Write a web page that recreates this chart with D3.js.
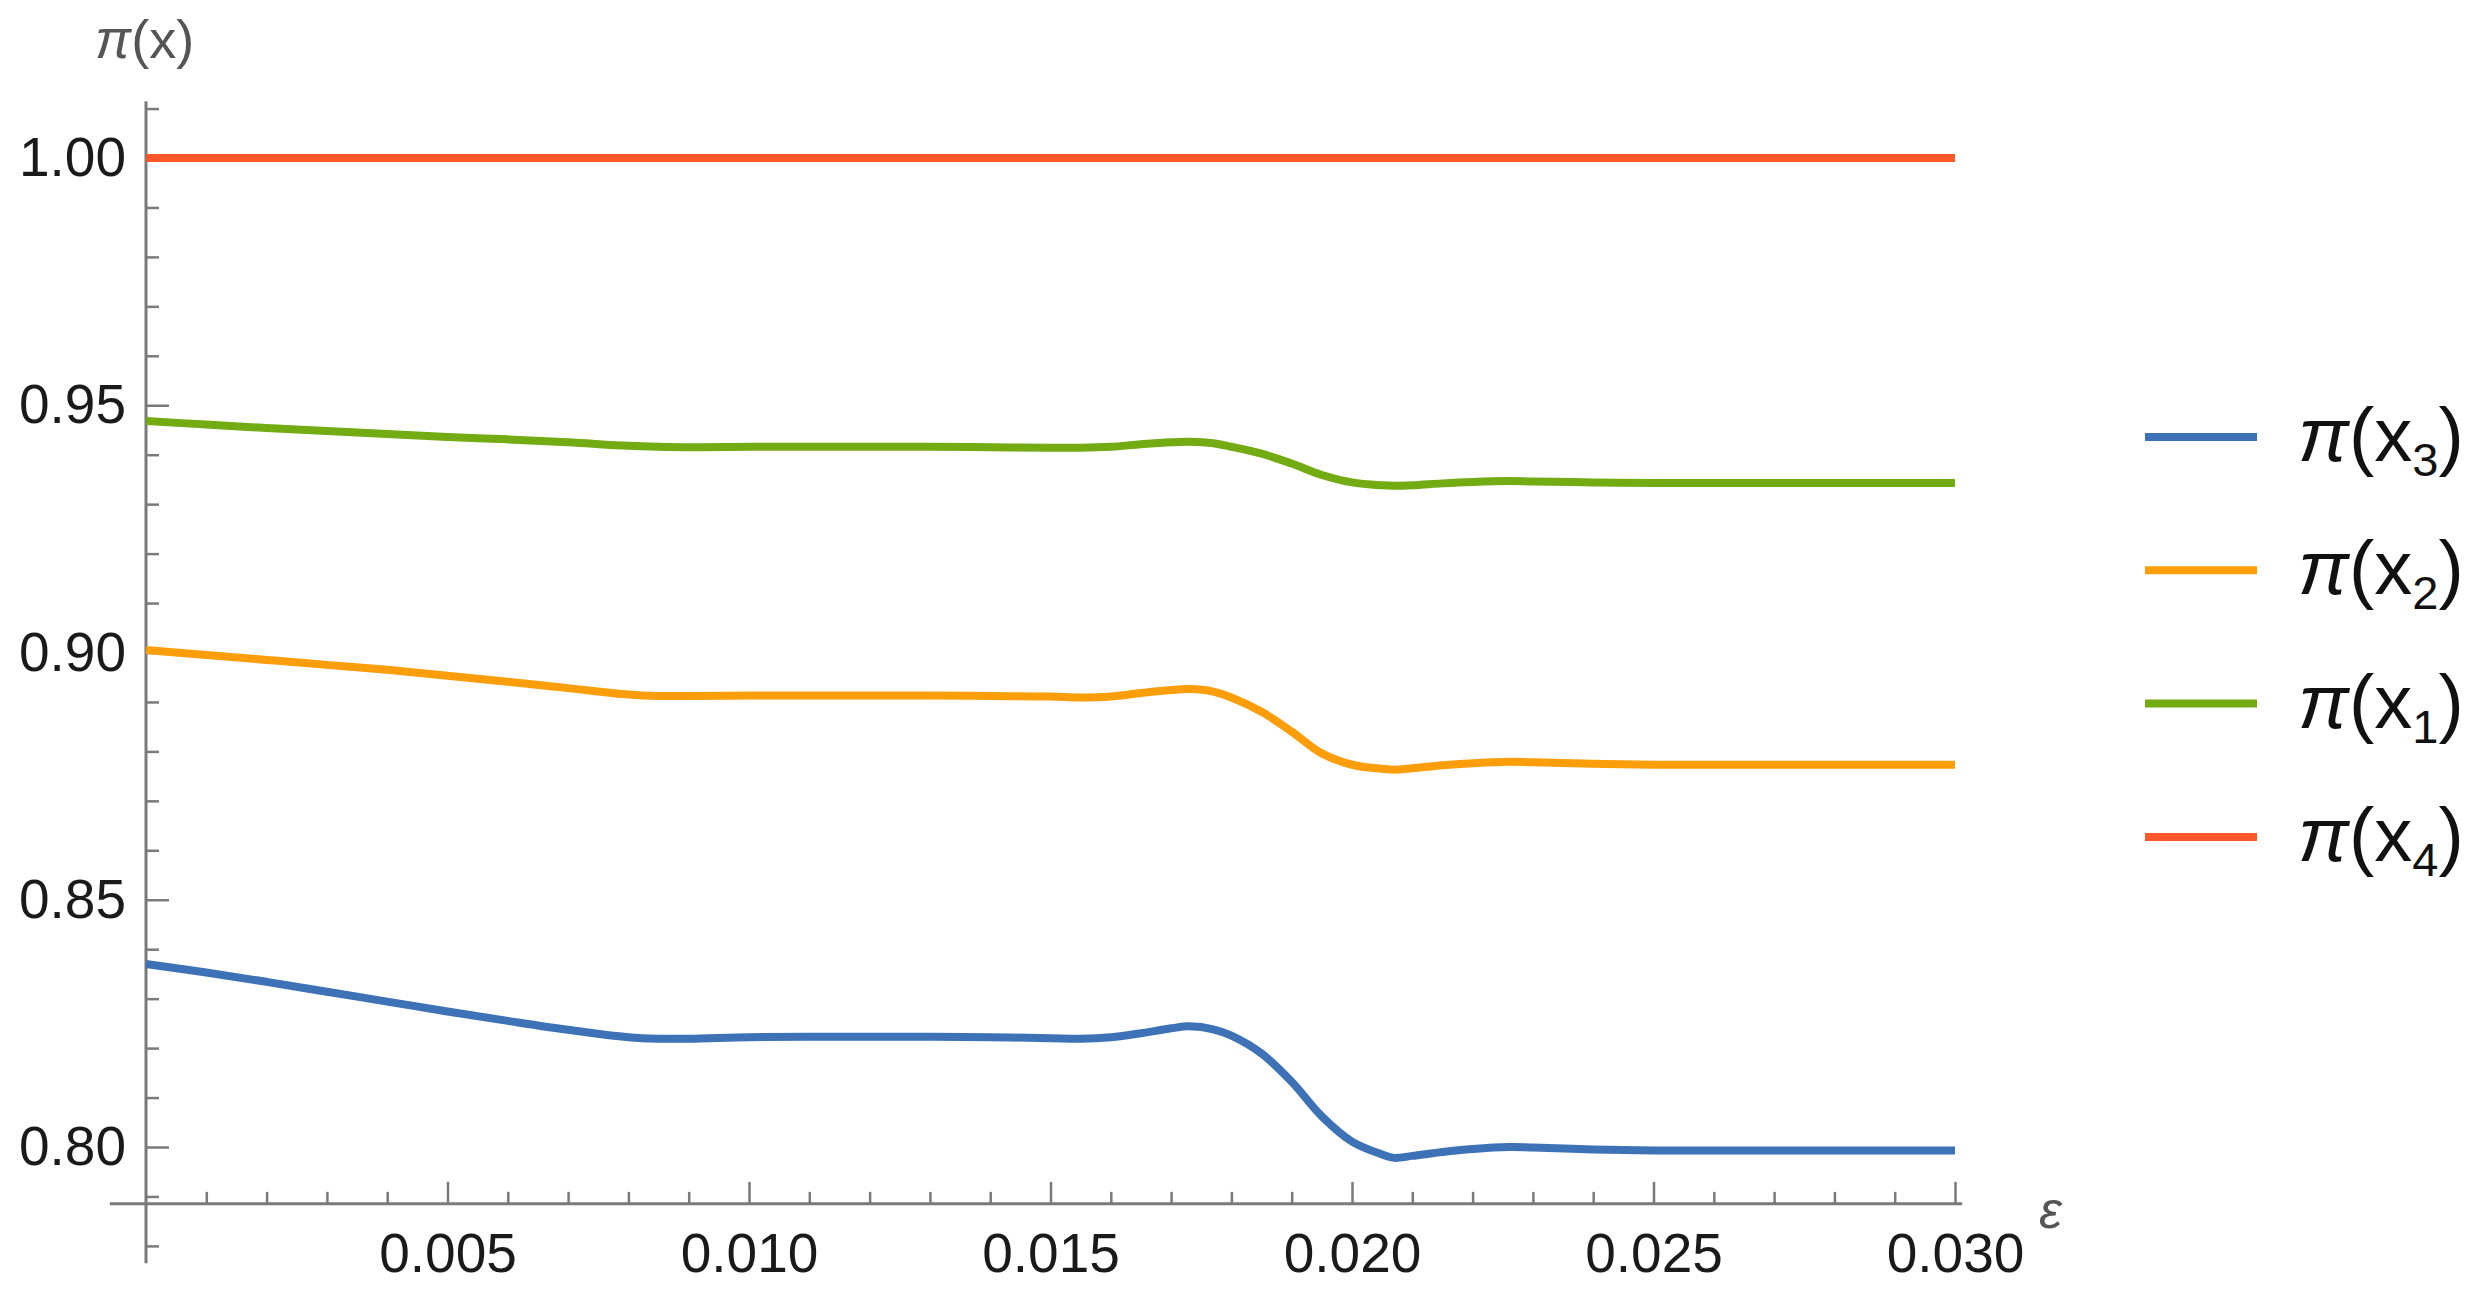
<!DOCTYPE html>
<html>
<head>
<meta charset="utf-8">
<script src="https://cdn.jsdelivr.net/npm/d3@7"></script>
<style>
  body { margin: 0; background: #fff; }
  text { font-family: "Liberation Sans", Arial, sans-serif; }
</style>
</head>
<body>
<svg id="chart" width="2477" height="1302"></svg>
<script>
// epsilon sample points
const eps = [0, 0.001, 0.002, 0.003, 0.004, 0.005, 0.006, 0.007, 0.008, 0.0085, 0.009,
  0.010, 0.011, 0.012, 0.013, 0.014, 0.015, 0.0155, 0.016, 0.0165, 0.017, 0.0173, 0.0177,
  0.018, 0.0185, 0.019, 0.0195, 0.020, 0.0205, 0.0207, 0.021, 0.0215, 0.022, 0.0226,
  0.023, 0.024, 0.025, 0.026, 0.027, 0.028, 0.029, 0.030];

const piX3 = [0.8370, 0.8353, 0.8334, 0.8314, 0.8294, 0.8274, 0.8255, 0.8237, 0.8222, 0.8219, 0.8219,
  0.8222, 0.8223, 0.8223, 0.8223, 0.8222, 0.8220, 0.8219, 0.8222, 0.8230, 0.8240, 0.8244, 0.8238,
  0.8225, 0.8189, 0.8132, 0.8062, 0.8011, 0.7985, 0.7978, 0.7982, 0.7990, 0.7996, 0.8000,
  0.7999, 0.7995, 0.7993, 0.7993, 0.7993, 0.7993, 0.7993, 0.7993];

const piX2 = [0.9005, 0.8995, 0.8985, 0.8975, 0.8965, 0.8953, 0.8941, 0.8928, 0.8915, 0.8912, 0.8912,
  0.8913, 0.8913, 0.8913, 0.8913, 0.8912, 0.8911, 0.8909, 0.8911, 0.8918, 0.8924, 0.8926, 0.8921,
  0.8909, 0.8880, 0.8840, 0.8796, 0.8773, 0.8765, 0.8763, 0.8766, 0.8772, 0.8776, 0.8779,
  0.8778, 0.8775, 0.8773, 0.8773, 0.8773, 0.8773, 0.8773, 0.8773];

const piX1 = [0.9468, 0.9461, 0.9454, 0.9448, 0.9442, 0.9436, 0.9431, 0.9425, 0.9418, 0.9416, 0.9415,
  0.9416, 0.9416, 0.9416, 0.9416, 0.9415, 0.9414, 0.9414, 0.9416, 0.9421, 0.9425, 0.9426, 0.9423,
  0.9416, 0.9402, 0.9382, 0.9359, 0.9344, 0.9338, 0.9337, 0.9338, 0.9342, 0.9345, 0.9347,
  0.9346, 0.9344, 0.9343, 0.9343, 0.9343, 0.9343, 0.9343, 0.9343];

const piX4 = eps.map(() => 1.00);

const seriesNames = ["3", "2", "1", "4"];
const seriesValues = [piX3, piX2, piX1, piX4];
const colors = ["#3e72b7", "#fb9e0a", "#72ab12", "#fd5629"];

const xTicks = [0.005, 0.010, 0.015, 0.020, 0.025, 0.030];
const yTicks = [0.80, 0.85, 0.90, 0.95, 1.00];

const svg = d3.select("#chart");

const x = d3.scaleLinear().domain([0, 0.030]).range([146, 1955]);
const y = d3.scaleLinear().domain([0.80, 1.00]).range([1147, 158]);

const axisColor = "#7a7a7a";
const xAxisY = y(0.7885);

const xMinor = d3.range(1, 31).map(i => i / 1000).filter(v => !xTicks.some(t => Math.abs(t - v) < 1e-9));
const yMinor = d3.range(78, 102).map(i => i / 100).filter(v => !yTicks.some(t => Math.abs(t - v) < 1e-9));

// y axis
const gy = svg.append("g").attr("transform", `translate(${x(0)},0)`);
gy.append("g").call(d3.axisLeft(y).tickValues(yMinor).tickSize(-13).tickFormat(""));
gy.append("g").call(d3.axisLeft(y).tickValues(yTicks).tickSize(-23).tickPadding(20).tickFormat(d3.format(".2f")));
gy.selectAll(".domain").remove();
gy.append("line").attr("y1", y(1.0115)).attr("y2", y(0.7765));

// x axis
const gx = svg.append("g").attr("transform", `translate(0,${xAxisY})`);
gx.append("g").call(d3.axisBottom(x).tickValues(xMinor).tickSize(-12).tickFormat(""));
gx.append("g").call(d3.axisBottom(x).tickValues(xTicks).tickSize(-22).tickPadding(29).tickFormat(d3.format(".3f")));
gx.selectAll(".domain").remove();
gx.append("line").attr("x1", x(-0.0006)).attr("x2", x(0.03012));

svg.selectAll("g line").attr("stroke", axisColor).attr("stroke-width", 3);
svg.selectAll(".tick line").attr("stroke-width", 2.5);
svg.selectAll(".tick text").attr("font-size", 55).attr("fill", "#1a1a1a")
  .attr("font-family", "'Liberation Sans', Arial, sans-serif");

// curves
const line = d3.line()
  .x((d, i) => x(eps[i]))
  .y(d => y(d))
  .curve(d3.curveCatmullRom.alpha(0.5));

svg.append("g").selectAll("path")
  .data(seriesValues.slice().reverse())
  .join("path")
  .attr("d", line)
  .attr("fill", "none")
  .attr("stroke", (d, i) => colors[seriesValues.length - 1 - i])
  .attr("stroke-width", 8)
  .attr("stroke-linejoin", "round");

// axis labels
const yl = svg.append("text").attr("x", 95).attr("y", 58).attr("font-size", 54).attr("fill", "#555");
yl.append("tspan").attr("font-style", "italic").text("π");
yl.append("tspan").text("(x)");

svg.append("text").attr("x", 2039).attr("y", 1228).attr("font-size", 52)
  .attr("font-style", "italic").attr("fill", "#555").text("ε");

// legend
const legend = svg.append("g");
const rowY = i => 437 + i * 133.3;
seriesNames.forEach((n, i) => {
  const g = legend.append("g").attr("transform", `translate(0,${rowY(i)})`);
  g.append("line").attr("x1", 2145).attr("x2", 2257)
    .attr("stroke", colors[i]).attr("stroke-width", 8);
  const t = g.append("text").attr("x", 2298).attr("y", 24).attr("font-size", 76).attr("fill", "#111");
  t.append("tspan").attr("font-style", "italic").text("π");
  t.append("tspan").text("(x");
  t.append("tspan").attr("font-size", 47).attr("dy", 15).text(n);
  t.append("tspan").attr("dy", -15).text(")");
});
</script>
</body>
</html>
